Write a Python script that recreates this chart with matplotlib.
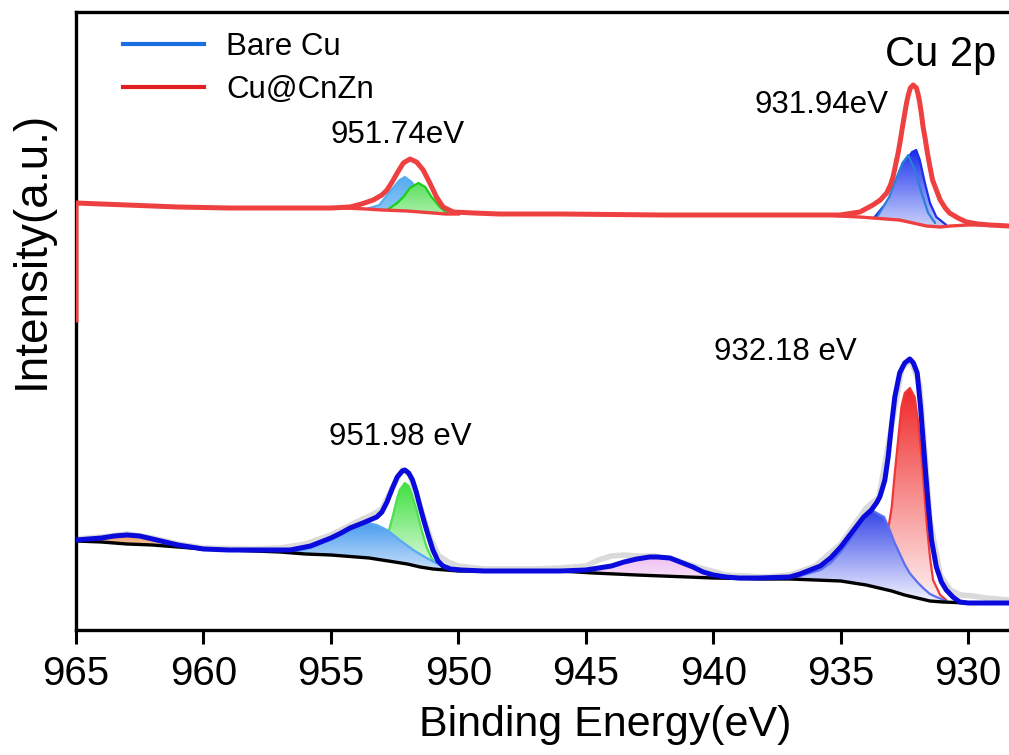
import numpy as np
import matplotlib
matplotlib.use('Agg')
import matplotlib.pyplot as plt
from matplotlib.colors import LinearSegmentedColormap
from matplotlib.lines import Line2D

plt.rcParams['font.family'] = ['Liberation Sans', 'DejaVu Sans']

# ---- Bare Cu (lower spectrum), intensity in a.u. ----
bare_bg_e = [965.0, 964.0, 963.0, 962.0, 961.0, 960.0, 959.0, 958.0, 957.0, 956.0, 955.0, 954.0,
             953.5, 953.0, 952.5, 952.0, 951.5, 951.0, 950.5, 950.0, 948.0, 946.0, 944.7, 943.0,
             942.0, 940.0, 938.0, 937.0, 936.0, 935.0, 934.5, 934.0, 933.5, 933.0, 932.5, 932.0,
             931.5, 931.0, 930.0, 928.4]
bare_bg_i = [89, 88, 86, 85, 83, 81, 80, 79, 78, 76, 75, 73,
             72, 70, 68, 66, 63, 61, 60, 59, 59, 59, 57, 55,
             54, 52, 51, 51, 50, 49, 47, 45, 42, 39, 35, 32,
             29, 28, 27, 27]

bare_env_e = [965.0, 964.5, 964.0, 963.5, 963.0, 962.5, 962.0, 961.5, 961.0, 960.5, 960.0, 959.0,
              958.0, 957.0, 956.6, 956.2, 955.8, 955.4, 955.0, 954.6, 954.25, 953.75, 953.47, 953.2,
              953.0, 952.8, 952.6, 952.4, 952.2, 952.1, 951.95, 951.8, 951.65, 951.5, 951.35, 951.2,
              951.0, 950.8, 950.6, 950.3, 949.9, 949.0, 948.0, 946.0, 945.0, 944.5, 944.0, 943.5,
              943.0, 942.5, 942.2, 941.7, 941.2, 940.8, 940.4, 940.0, 939.5, 939.0, 938.2, 937.0,
              936.6, 936.2, 935.8, 935.4, 935.0, 934.7, 934.4, 934.1, 933.8, 933.6, 933.47, 933.35,
              933.27, 933.14, 933.0, 932.88, 932.69, 932.49, 932.29, 932.15, 932.0, 931.87, 931.77, 931.67,
              931.56, 931.44, 931.25, 931.05, 930.86, 930.6, 930.33, 930.0, 929.0, 928.4]
bare_env_i = [90, 91, 92, 94, 95, 94, 91, 88, 85, 83, 81, 80,
              80, 80, 80, 82, 84, 88, 92, 97, 102, 107, 110, 113,
              118, 128, 141, 153, 159, 160, 157, 150, 138, 123, 109, 96,
              80, 69, 64, 61, 60, 59, 59, 59, 60, 62, 64, 68,
              71, 73, 73, 72, 67, 63, 58, 55, 53, 52, 52, 53,
              56, 60, 64, 72, 83, 93, 103, 113, 120, 127, 133, 143,
              150, 173, 207, 233, 257, 267, 271, 267, 257, 223, 190, 157,
              123, 90, 63, 48, 40, 33, 28, 27, 27, 27]

bare_raw_e = [965.0, 964.0, 963.0, 962.0, 961.0, 960.0, 958.0, 957.0, 956.0, 955.0, 954.0, 953.4,
              953.0, 952.6, 952.2, 951.9, 951.5, 951.1, 950.8, 950.4, 950.0, 949.0, 947.0, 946.0,
              945.0, 944.5, 944.0, 943.5, 943.0, 942.3, 941.5, 940.5, 939.5, 938.0, 937.0, 936.0,
              935.0, 934.0, 933.5, 933.0, 932.6, 932.25, 931.9, 931.5, 931.1, 930.7, 930.3, 929.8,
              929.3, 928.4]
bare_raw_i = [91, 93, 96, 92, 86, 82, 81, 82, 86, 95, 108, 115,
              121, 142, 160, 155, 124, 92, 75, 68, 64, 61, 61, 62,
              64, 70, 74, 75, 74, 74, 70, 62, 55, 53, 55, 64,
              86, 122, 133, 205, 262, 270, 245, 110, 55, 40, 35, 34,
              32, 30]

# fitted components (Bare Cu)
bare_c963_e = [965.0, 964.5, 964.0, 963.5, 963.0, 962.5, 962.0, 961.5, 961.0, 960.5, 960.0]
bare_c963_i = [89, 90, 91, 93, 93, 92, 90, 87, 84, 82, 81]
bare_c953_e = [956.6, 955.8, 955.04, 954.6, 954.25, 953.9, 953.6, 953.2, 952.8, 952.3, 951.77, 951.25, 950.73, 950.4]
bare_c953_i = [77, 82, 90, 95, 100, 104, 107, 105, 100, 90, 80, 72, 65, 60]
bare_c952_e = [953.5, 953.2, 952.95, 952.75, 952.58, 952.42, 952.3, 952.1, 951.95, 951.84, 951.64, 951.44,
               951.25, 951.05, 950.8, 950.6]
bare_c952_i = [72, 80, 90, 97, 113, 130, 140, 147, 144, 137, 120, 100, 83, 72, 63, 60]
bare_c942_e = [945.5, 944.7, 944.06, 943.4, 942.9, 942.3, 941.7, 941.2, 940.5, 940.0, 939.5, 939.0]
bare_c942_i = [59, 59, 63, 69, 72, 73, 72, 67, 60, 55, 52, 51]
bare_c934_e = [937.0, 936.6, 936.2, 935.8, 935.4, 935.0, 934.7, 934.4, 934.1, 933.8, 933.3, 933.08,
               932.9, 932.7, 932.5, 932.3, 932.0, 931.77, 931.5, 931.25, 930.86]
bare_c934_i = [51, 54, 57, 60, 67, 78, 88, 98, 110, 120, 113, 100,
               88, 77, 66, 57, 48, 42, 36, 33, 29]
bare_c932_e = [933.8, 933.47, 933.27, 933.1, 933.0, 932.88, 932.75, 932.62, 932.49, 932.29, 932.1, 931.96,
               931.83, 931.73, 931.63, 931.5, 931.38, 931.1, 930.86]
bare_c932_i = [44, 57, 83, 107, 123, 157, 190, 223, 237, 242, 233, 207,
               173, 140, 107, 73, 50, 35, 30]

# ---- Cu@CnZn (upper spectrum) ----
cz_env_e = [965.0, 965.0, 964.0, 963.0, 962.0, 961.0, 959.0, 957.0, 956.2, 955.0, 954.25, 953.8,
            953.34, 953.0, 952.8, 952.6, 952.4, 952.16, 951.9, 951.64, 951.38, 951.12, 950.86, 950.6,
            950.2, 949.4, 948.4, 946.0, 942.0, 938.0, 936.0, 935.04, 934.25, 933.74, 933.45, 933.2,
            933.05, 932.95, 932.85, 932.75, 932.66, 932.58, 932.5, 932.42, 932.35, 932.27, 932.16, 932.03,
            931.96, 931.9, 931.83, 931.77, 931.68, 931.6, 931.5, 931.4, 931.25, 931.1, 930.9, 930.73,
            930.4, 930.07, 929.6, 929.16, 928.4]
cz_env_i = [310, 427, 426, 425, 424, 423, 422, 422, 422, 422, 423, 426,
            430, 435, 440, 448, 457, 467, 471, 468, 460, 447, 433, 423,
            418, 417, 416, 416, 415, 415, 415, 415, 418, 425, 430, 437,
            445, 453, 465, 477, 490, 503, 515, 527, 535, 542, 545, 542,
            535, 527, 515, 503, 490, 477, 463, 450, 440, 430, 422, 417,
            412, 408, 406, 405, 404]

cz_bg1_e = [954.5, 953.6, 953.0, 952.0, 951.0, 950.5, 950.0]
cz_bg1_i = [422, 421, 420, 419, 417, 416, 416]
cz_bg2_e = [935.5, 935.04, 934.25, 933.74, 932.7, 932.16, 931.64, 931.1, 930.7, 930.0, 929.4]
cz_bg2_i = [415, 414, 413, 412, 410, 407, 404, 403, 404, 405, 405]

cz_c952_e = [953.6, 953.1, 952.7, 952.3, 952.1, 951.84, 951.64, 951.4, 951.1, 950.8]
cz_c952_i = [421, 425, 438, 450, 453, 448, 442, 432, 424, 417]
cz_c951_e = [952.8, 952.4, 952.16, 951.9, 951.57, 951.3, 951.05, 950.73, 950.4]
cz_c951_i = [420, 427, 433, 442, 447, 443, 433, 423, 416]
cz_c932a_e = [933.7, 933.35, 932.95, 932.62, 932.42, 932.2, 932.04, 931.9, 931.7, 931.5, 931.25, 930.86]
cz_c932a_i = [412, 423, 433, 453, 470, 478, 480, 470, 447, 427, 413, 405]
cz_c932b_e = [933.6, 933.1, 932.8, 932.58, 932.35, 932.1, 931.83, 931.57, 931.3]
cz_c932b_i = [412, 433, 453, 467, 475, 460, 437, 417, 407]

xticks = [965, 960, 955, 950, 945, 940, 935, 930]


def comp_fill(ax, e, i, bg_e, bg_i, c_top, c_bot, edge, z, lw=1.6):
    e = np.asarray(e, float)
    i = np.asarray(i, float)
    be = np.asarray(bg_e, float)
    bi = np.asarray(bg_i, float)
    lo, hi = e.min(), e.max()
    m = (be > lo) & (be < hi)
    px = np.concatenate([e, be[m][::-1]])
    py = np.concatenate([i, bi[m][::-1]])
    poly = ax.fill(px, py, facecolor='none', edgecolor='none')[0]
    cmap = LinearSegmentedColormap.from_list('g', [c_bot, c_top])
    grad = np.linspace(0, 1, 256).reshape(-1, 1)
    im = ax.imshow(grad, extent=[hi, lo, py.min(), py.max()], origin='lower',
                   cmap=cmap, aspect='auto', zorder=z, interpolation='bilinear')
    im.set_clip_path(poly)
    ax.plot(e, i, color=edge, lw=lw, zorder=z + 0.1, solid_capstyle='round')


fig = plt.figure(figsize=(10.09, 7.55), dpi=100)
fig.patch.set_facecolor('white')
ax = fig.add_axes([76 / 1009, 1 - 630 / 755, 1 - 76 / 1009, 618 / 755])

# raw data
ax.plot(bare_raw_e, bare_raw_i, color='#dadada', lw=4, zorder=1)

# Bare Cu components
comp_fill(ax, bare_c963_e, bare_c963_i, bare_bg_e, bare_bg_i, '#f0a870', '#f8d0b0', '#f0a870', 2)
comp_fill(ax, bare_c952_e, bare_c952_i, bare_bg_e, bare_bg_i, '#3ee03e', '#e4fae4', '#4ee04e', 2)
comp_fill(ax, bare_c953_e, bare_c953_i, bare_bg_e, bare_bg_i, '#4a9cf0', '#c8e0fa', '#5aaaf2', 2.3)
comp_fill(ax, bare_c942_e, bare_c942_i, bare_bg_e, bare_bg_i, '#efc0f2', '#f8e0f8', '#e8b8ee', 2)
comp_fill(ax, bare_c932_e, bare_c932_i, bare_bg_e, bare_bg_i, '#f02828', '#fff2f2', '#f03838', 2)
comp_fill(ax, bare_c934_e, bare_c934_i, bare_bg_e, bare_bg_i, '#3444e8', '#f4f5ff', '#5a70f0', 2.3)

ax.plot(bare_bg_e, bare_bg_i, color='black', lw=2.4, zorder=4)
ax.plot(bare_env_e, bare_env_i, color='#0a0adc', lw=3.6, zorder=5, solid_joinstyle='round')

# Cu@CnZn components
comp_fill(ax, cz_c952_e, cz_c952_i, cz_bg1_e, cz_bg1_i, '#56acf0', '#8cc8f6', '#56acf0', 2)
comp_fill(ax, cz_c951_e, cz_c951_i, cz_bg1_e, cz_bg1_i, '#5ee05e', '#a8f0a8', '#18d018', 2.3)
comp_fill(ax, cz_c932a_e, cz_c932a_i, cz_bg2_e, cz_bg2_i, '#1c2cf0', '#c8d0fa', '#1a30e8', 2)
comp_fill(ax, cz_c932b_e, cz_c932b_i, cz_bg2_e, cz_bg2_i, '#2a40f0', '#c8d0fa', '#2a80d8', 2.3)

ax.plot(cz_bg1_e, cz_bg1_i, color='#ee4040', lw=2.4, zorder=4)
ax.plot(cz_bg2_e, cz_bg2_i, color='#ee4040', lw=2.4, zorder=4)
ax.plot(cz_env_e, cz_env_i, color='#ee4040', lw=3.6, zorder=5, solid_joinstyle='round')

ax.set_xlim(965, 928.4)
ax.set_ylim(0, 618)
ax.set_xticks(xticks)
ax.set_yticks([])
ax.tick_params(axis='x', direction='out', length=10, width=2.2, labelsize=29, pad=8)
for s in ['left', 'top', 'bottom']:
    ax.spines[s].set_linewidth(2.4)
ax.spines['right'].set_visible(False)

ax.set_xlabel('Binding Energy(eV)', fontsize=31)
ax.xaxis.set_label_coords(0.567, -0.122)
ax.set_ylabel('Intensity(a.u.)', fontsize=33)
ax.yaxis.set_label_coords(-0.024, 0.615)

# peak annotations
ax.text(952.37, 495, '951.74eV', fontsize=22.5, ha='center', va='center')
ax.text(935.75, 525, '931.94eV', fontsize=22.5, ha='center', va='center')
ax.text(952.29, 193, '951.98 eV', fontsize=22.5, ha='center', va='center')
ax.text(937.16, 278, '932.18 eV', fontsize=22.5, ha='center', va='center')
ax.text(931.08, 575, 'Cu 2p', fontsize=30, ha='center', va='center')

handles = [Line2D([], [], color='#1a6fe0', lw=3),
           Line2D([], [], color='#e02020', lw=3)]
ax.legend(handles, ['Bare Cu', 'Cu@CnZn'], loc='upper left', bbox_to_anchor=(0.05, 0.968),
          frameon=False, fontsize=22.5, handlelength=2.6, handletextpad=0.72,
          labelspacing=0.42, borderpad=0, borderaxespad=0)

fig.savefig('out.png', dpi=100, facecolor='white')
